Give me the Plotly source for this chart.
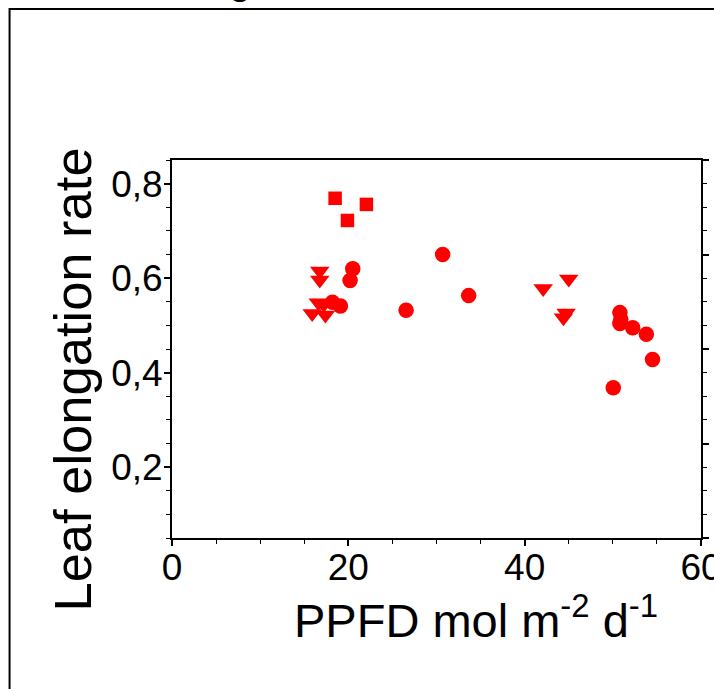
import plotly.graph_objects as go

# Data
circle_x = [18.2, 19.1, 20.2, 20.5, 26.55, 30.7, 33.65, 50.05, 50.8, 50.9, 50.8, 52.25, 53.8, 54.5]
circle_y = [0.549, 0.541, 0.595, 0.620, 0.532, 0.650, 0.563, 0.368, 0.527, 0.513, 0.504, 0.495, 0.481, 0.428]

square_x = [18.5, 19.9, 22.05]
square_y = [0.769, 0.722, 0.756]

tri_x = [16.76, 16.76, 15.9, 16.6, 17.4, 17.2, 42.1, 45.0, 44.7, 44.4]
tri_y = [0.615, 0.596, 0.525, 0.548, 0.522, 0.544, 0.578, 0.598, 0.526, 0.516]

x_ticks = [0, 20, 40, 60]
y_ticks = [0.2, 0.4, 0.6, 0.8]

x_title = "PPFD mol m<sup>-2</sup> d<sup>-1</sup>"
y_title = "Leaf elongation rate"

RED = "#ff0000"
FONT = "Liberation Sans, Arial, sans-serif"

# plot area geometry (pixels)
W, H = 714, 689
L, R, T, B = 171.5, 700.7, 160, 538
pw, ph = R - L, B - T

def px_x(p):
    return (p - L) / pw

def px_y(p):
    return (B - p) / ph

fig = go.Figure()
fig.add_trace(go.Scatter(x=circle_x, y=circle_y, mode="markers",
                         marker=dict(symbol="circle", size=15.5, color=RED, line=dict(width=0)),
                         showlegend=False))
fig.add_trace(go.Scatter(x=square_x, y=square_y, mode="markers",
                         marker=dict(symbol="square", size=13.5, color=RED, line=dict(width=0)),
                         showlegend=False))
fig.add_trace(go.Scatter(x=tri_x, y=tri_y, mode="markers",
                         marker=dict(symbol="triangle-down", size=17, color=RED, line=dict(width=0)),
                         showlegend=False))
# empty trace to register the right-hand axis
fig.add_trace(go.Scatter(x=[None], y=[None], yaxis="y2", mode="markers",
                         showlegend=False, hoverinfo="skip"))

fig.update_layout(
    width=W, height=H,
    margin=dict(l=L, r=W - R, t=T, b=H - B, autoexpand=False),
    paper_bgcolor="white", plot_bgcolor="white",
    separators=",.",
    font=dict(family=FONT, color="black", size=37),
    xaxis=dict(range=[0, 60], tickvals=x_ticks, ticktext=[str(v) for v in x_ticks],
               ticks="outside", ticklen=6, tickwidth=1.5, tickcolor="black",
               minor=dict(dtick=5, tick0=0, ticks="outside", ticklen=4, tickwidth=1, tickcolor="black"),
               showline=True, linecolor="black", linewidth=2, mirror=True,
               showgrid=False, zeroline=False, automargin=False,
               ticklabeloverflow="allow", ticklabelstandoff=-10,
               tickfont=dict(size=37, family=FONT)),
    yaxis=dict(range=[0.05, 0.85], tickvals=y_ticks, tickformat=".1f",
               ticks="outside", ticklen=6, tickwidth=1.5, tickcolor="black",
               minor=dict(dtick=0.05, tick0=0, ticks="outside", ticklen=4, tickwidth=1, tickcolor="black"),
               showline=True, linecolor="black", linewidth=2, mirror=False,
               showgrid=False, zeroline=False, automargin=False,
               ticklabeloverflow="allow", ticklabelstandoff=-6,
               tickfont=dict(size=37, family=FONT)),
    yaxis2=dict(range=[0.05, 0.85], overlaying="y", side="right",
                tick0=0.05, dtick=0.2, showticklabels=False,
                ticks="outside", ticklen=6, tickwidth=1.5, tickcolor="black",
                minor=dict(dtick=0.05, tick0=0.05, ticks="outside", ticklen=4, tickwidth=1, tickcolor="black"),
                showline=True, linecolor="black", linewidth=2,
                showgrid=False, zeroline=False, automargin=False),
    annotations=[
        dict(text=x_title, xref="paper", yref="paper", x=px_x(476), y=px_y(617),
             xanchor="center", yanchor="middle", showarrow=False,
             font=dict(size=47, family=FONT, color="black")),
        dict(text=y_title, xref="paper", yref="paper", x=px_x(71), y=px_y(380),
             xanchor="center", yanchor="middle", textangle=-90, showarrow=False,
             font=dict(size=52.5, family=FONT, color="black")),
        dict(text="g", xref="paper", yref="paper", x=px_x(240), y=px_y(4),
             xanchor="center", yanchor="bottom", showarrow=False,
             font=dict(size=40, family=FONT, color="black")),
    ],
    shapes=[
        dict(type="rect", xref="paper", yref="paper",
             x0=px_x(9), x1=px_x(730), y0=px_y(720), y1=px_y(9),
             line=dict(color="black", width=2), fillcolor="rgba(0,0,0,0)", layer="below"),
    ],
)

fig.write_html("out.html")
